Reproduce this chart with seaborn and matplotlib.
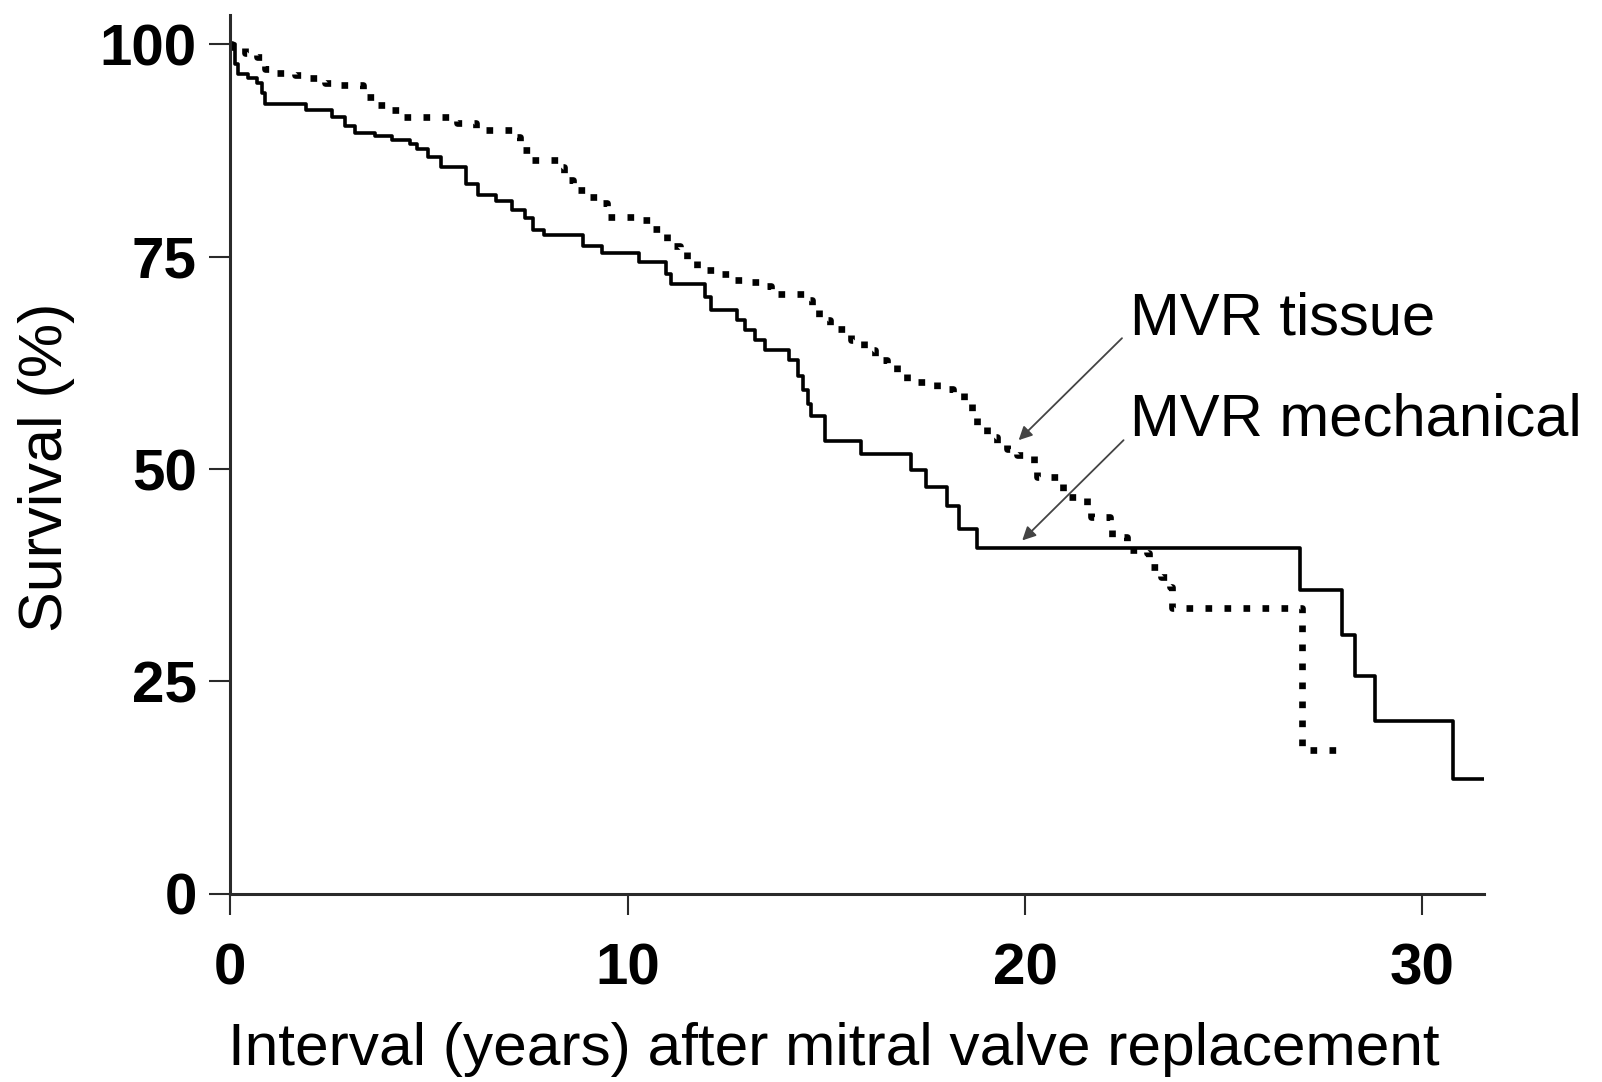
import pandas as pd
import matplotlib
matplotlib.use("Agg")
import matplotlib.pyplot as plt
import seaborn as sns

# Kaplan-Meier style survival curves (years, % surviving)
mech_years = [0, 0.13, 0.21, 0.45, 0.67, 0.8, 0.88, 1.9, 2.56, 2.9, 3.15, 3.65, 4.07,
              4.53, 4.7, 4.99, 5.3, 5.93, 6.25, 6.7, 7.09, 7.42, 7.63, 7.89, 8.87,
              9.35, 10.3, 10.98, 11.1, 11.95, 12.1, 12.75, 12.95, 13.2, 13.45, 14.05,
              14.3, 14.42, 14.53, 14.62, 14.97, 15.88, 17.13, 17.52, 18.04, 18.33,
              18.8, 26.93, 27.98, 28.3, 28.8, 30.78, 31.6]
mech_surv = [100, 97.7, 96.5, 96.0, 95.4, 94.2, 92.9, 92.2, 91.4, 90.4, 89.6, 89.2, 88.7,
             88.3, 87.7, 86.7, 85.6, 83.6, 82.2, 81.6, 80.5, 79.5, 78.1, 77.5, 76.2,
             75.4, 74.4, 73.0, 71.8, 70.3, 68.7, 67.5, 66.4, 65.2, 64.0, 62.8,
             60.9, 59.3, 57.7, 56.2, 53.3, 51.8, 49.9, 47.9, 45.6, 43.0,
             40.7, 35.8, 30.5, 25.6, 20.3, 13.5, 13.5]

tissue_years = [0, 0.04, 0.38, 0.67, 0.88, 1.17, 1.64, 2.01, 2.39, 2.77, 3.35, 3.69, 4.03,
                4.28, 5.7, 6.2, 7.1, 7.3, 7.55, 8.3, 8.39, 8.64, 8.98, 9.31, 9.48, 10.28,
                10.57, 10.91, 10.99, 11.33, 11.49, 11.75, 12.25, 12.58, 13.0, 13.34, 13.6,
                14.43, 14.64, 14.81, 15.1, 15.61, 15.94, 16.23, 16.53, 16.78, 17.03, 17.79,
                18.2, 18.46, 18.67, 18.79, 19.04, 19.29, 19.55, 19.8, 20.22, 20.3, 20.95,
                21.56, 21.65, 22.15, 22.19, 22.57, 23.07, 23.11, 23.41, 23.66, 23.7,
                26.97, 28.06]
tissue_surv = [100, 99.7, 98.9, 98.5, 97.1, 96.6, 96.4, 96.0, 95.4, 95.2, 93.8, 92.8, 92.2,
               91.4, 90.7, 89.9, 89.1, 87.5, 86.4, 85.6, 84.0, 82.8, 82.0, 81.3, 79.7, 79.3,
               78.3, 77.7, 76.2, 75.8, 74.6, 73.4, 73.0, 72.2, 72.0, 71.5, 70.6,
               69.9, 69.1, 67.5, 66.5, 65.2, 64.0, 62.8, 62.2, 61.4, 60.3, 59.4,
               58.9, 57.7, 56.5, 55.0, 53.8, 53.0, 52.4, 51.6, 50.7, 49.1, 46.7,
               45.6, 44.4, 43.2, 42.0, 40.5, 40.1, 38.5, 37.3, 36.1, 33.7,
               16.9, 16.9]

x_ticks = [0, 10, 20, 30]
y_ticks = [0, 25, 50, 75, 100]

mech = pd.DataFrame({"years": mech_years, "survival": mech_surv})
tissue = pd.DataFrame({"years": tissue_years, "survival": tissue_surv})

sns.set_theme(style="ticks")
plt.rcParams["font.family"] = ["Liberation Sans", "DejaVu Sans"]
plt.rcParams["text.color"] = "black"
plt.rcParams["axes.labelcolor"] = "black"

fig = plt.figure(figsize=(16.02, 10.82), dpi=100)
ax = fig.add_axes([0.1436, 0.1738, 0.7828, 0.8121])

sns.lineplot(data=mech, x="years", y="survival", estimator=None, sort=False,
             drawstyle="steps-post", color="black", lw=2.6, ax=ax)
sns.lineplot(data=tissue, x="years", y="survival", estimator=None, sort=False,
             drawstyle="steps-post", color="black", lw=4.8,
             linestyle=(0, (1, 1.85)), dash_capstyle="butt", ax=ax)

ax.set_xlim(0, 31.55)
ax.set_ylim(0, 103.4)
ax.set_xticks(x_ticks)
ax.set_yticks(y_ticks)
sns.despine(ax=ax)
for side in ["left", "bottom"]:
    ax.spines[side].set_linewidth(2.2)
    ax.spines[side].set_color("#2a2a2a")

ax.tick_params(axis="both", direction="out", length=15, width=1.5, color="#2a2a2a",
               labelsize=42, labelcolor="black")
ax.tick_params(axis="x", pad=20)
ax.tick_params(axis="y", pad=9)
for lab in ax.get_xticklabels() + ax.get_yticklabels():
    lab.set_fontweight("bold")

ax.set_xlabel("Interval (years) after mitral valve replacement", fontsize=43.5,
              color="black")
ax.set_ylabel("Survival (%)", fontsize=44, va="center", color="black")
ax.xaxis.set_label_coords(0.4815, -0.146)
ax.yaxis.set_label_coords(-0.1467, 0.486)

# curve labels with pointer arrows
ax.text(22.65, 65.8, "MVR tissue", fontsize=43, ha="left", va="baseline",
        color="black")
ax.text(22.65, 54.0, "MVR mechanical", fontsize=43, ha="left", va="baseline",
        color="black", clip_on=False)
arrow = dict(arrowstyle="-|>", color="#444444", lw=1.3, mutation_scale=20,
             shrinkA=0, shrinkB=0)
ax.annotate("", xy=(19.84, 53.4), xytext=(22.44, 65.4), arrowprops=arrow)
ax.annotate("", xy=(19.93, 41.6), xytext=(22.48, 53.4), arrowprops=arrow)

fig.savefig("out.png", dpi=100)
